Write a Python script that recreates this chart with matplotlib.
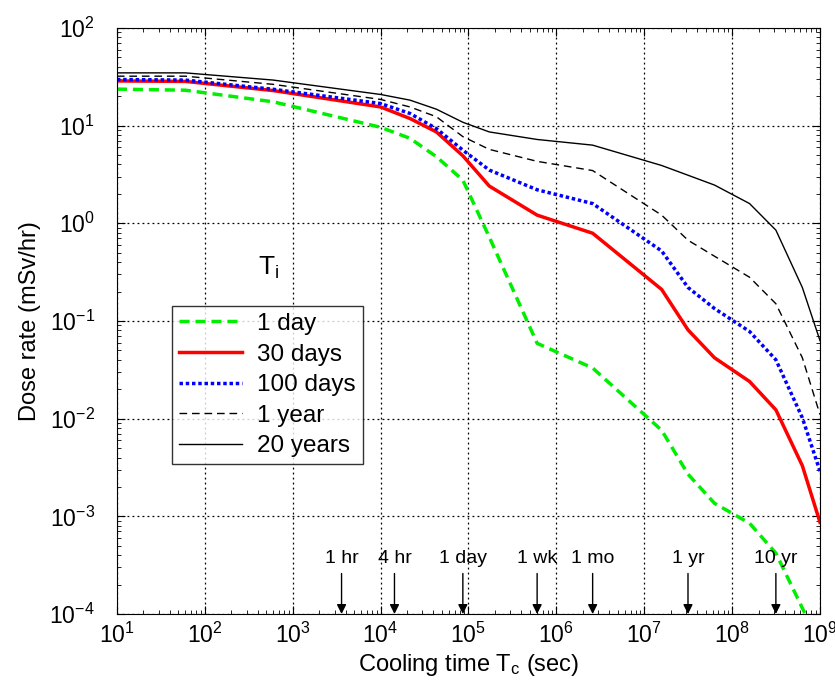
import numpy as np
import matplotlib
matplotlib.use("Agg")
import matplotlib.pyplot as plt

plt.rcParams['font.family'] = ['Liberation Sans', 'DejaVu Sans']
plt.rcParams['mathtext.fontset'] = 'custom'
plt.rcParams['mathtext.rm'] = 'Liberation Sans'
plt.rcParams['mathtext.it'] = 'Liberation Sans:italic'
plt.rcParams['mathtext.default'] = 'regular'

# cooling time points (sec)
t_cool = [10, 60, 600, 1e4, 2.16e4, 4.32e4, 8.64e4, 1.728e5, 6.05e5, 2.59e6,
          1.58e7, 3.15e7, 6.3e7, 1.58e8, 3.15e8, 6.3e8, 1e9]

# dose rate (mSv/hr) for each irradiation time T_i
dose_1day = [23.6, 23.0, 17.5, 9.6, 7.4, 4.8, 2.76, 0.72, 0.059, 0.033,
             0.0076, 0.0027, 0.00136, 0.00085, 0.00042, 0.000115, 0.00005]
dose_30days = [28.6, 28.3, 22.8, 15.5, 11.8, 8.6, 4.9, 2.4, 1.21, 0.79,
               0.21, 0.081, 0.042, 0.024, 0.0123, 0.0033, 0.00087]
dose_100days = [29.6, 29.2, 23.5, 16.8, 13.3, 9.3, 5.6, 3.5, 2.2, 1.59,
                0.52, 0.22, 0.134, 0.078, 0.040, 0.0102, 0.0029]
dose_1year = [32, 32, 26.4, 18.5, 15.5, 12.3, 7.7, 5.7, 4.3, 3.46,
              1.21, 0.67, 0.46, 0.28, 0.15, 0.042, 0.011]
dose_20years = [34.6, 34.6, 29.2, 20.8, 18.2, 14.7, 10.8, 8.6, 7.2, 6.3,
                3.9, 3.1, 2.46, 1.59, 0.85, 0.22, 0.063]

# reference times marked with arrows
mark_labels = ["1 hr", "4 hr", "1 day", "1 wk", "1 mo", "1 yr", "10 yr"]
mark_times = [3600, 14400, 86400, 604800, 2.59e6, 3.15e7, 3.15e8]

fig = plt.figure(figsize=(8.35, 6.84), dpi=100)
ax = fig.add_axes([0.140, 0.1023, 0.842, 0.857])

ax.plot(t_cool, dose_1day, color='#00ee00', lw=2.5, dashes=(2.9, 1.7), label='1 day')
ax.plot(t_cool, dose_30days, color='#ff0000', lw=2.5, label='30 days')
ax.plot(t_cool, dose_100days, color='#0000ff', lw=2.5, linestyle=(0, (1, 0.8)), label='100 days')
ax.plot(t_cool, dose_1year, color='black', lw=1, dashes=(5.5, 3.5), label='1 year')
ax.plot(t_cool, dose_20years, color='black', lw=1, label='20 years')

ax.set_xscale('log')
ax.set_yscale('log')
ax.set_xlim(10, 1e9)
ax.set_ylim(1e-4, 1e2)

ax.grid(True, which='major', color='black', linestyle=(0, (1.5, 2.5)), lw=0.9)
ax.tick_params(which='both', direction='in', top=True, right=True)
ax.tick_params(which='major', length=6, labelsize=16.5)
ax.tick_params(which='minor', length=3)
ax.tick_params(axis='y', pad=16)
ax.tick_params(axis='x', pad=6)
ax.xaxis.set_minor_locator(matplotlib.ticker.LogLocator(subs=np.arange(2, 10), numticks=20))
ax.yaxis.set_minor_locator(matplotlib.ticker.LogLocator(subs=np.arange(2, 10), numticks=20))

ax.set_xlabel('Cooling time T$_c$ (sec)', fontsize=17, labelpad=3)
ax.set_ylabel('Dose rate (mSv/hr)', fontsize=17, labelpad=6)

for lab, tm in zip(mark_labels, mark_times):
    ax.annotate('', xy=(tm, 1e-4), xytext=(tm, 2.6e-4),
                arrowprops=dict(arrowstyle='-|>', color='black', lw=1,
                                mutation_scale=14, shrinkA=0, shrinkB=0))
    ax.text(tm, 3.7e-4, lab, ha='center', va='center', fontsize=14)

ax.text(400, 0.35, 'T$_i$', fontsize=19, ha='left', va='center')

leg = ax.legend(loc='upper left', bbox_to_anchor=(0.078, 0.526), borderaxespad=0,
                fancybox=False, edgecolor='black', fontsize=17.5, handlelength=2.6,
                handletextpad=0.6, labelspacing=0.35, borderpad=0.3)
leg.get_frame().set_linewidth(1)

fig.savefig('out.png', dpi=100)
